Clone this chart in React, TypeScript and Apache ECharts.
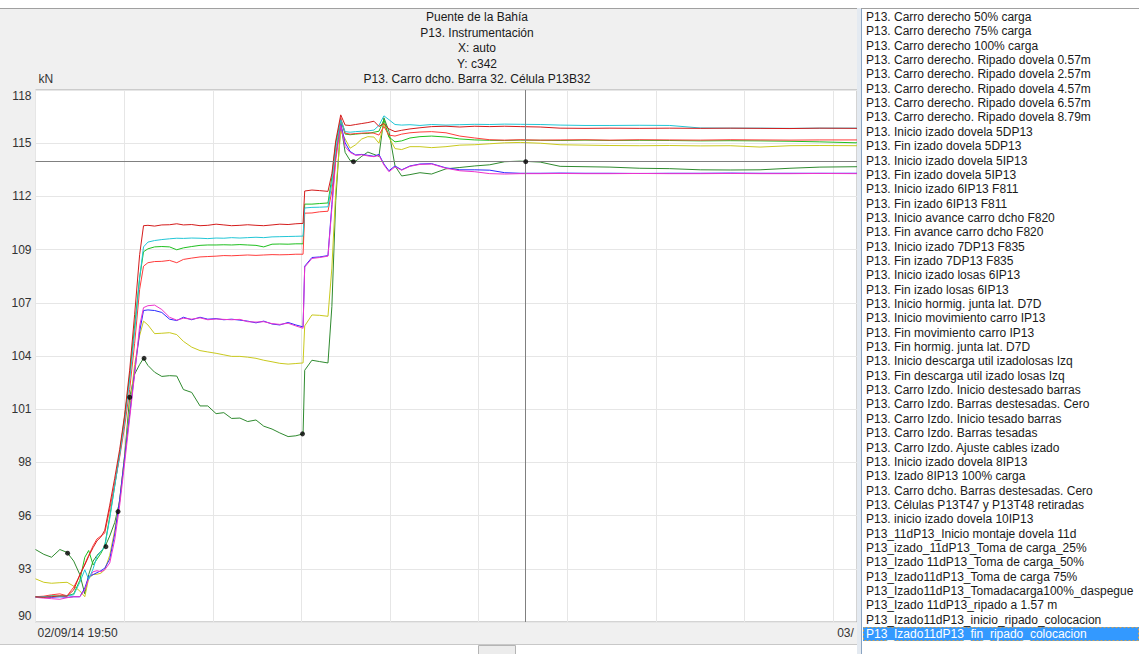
import React, { useEffect, useRef } from 'react';
import * as echarts from 'echarts';

// ---------- texts ----------
const TITLE_LINES = [
  'Puente de la Bahía',
  'P13. Instrumentación',
  'X: auto',
  'Y: c342',
  'P13. Carro dcho. Barra 32. Célula P13B32',
];
const Y_UNIT = 'kN';
// x axis is in minutes from 02/09/14 19:50
const X_FIRST_LABEL: [number, string] = [0, '02/09/14 19:50'];
const X_NEXT_LABEL: [number, string] = [1440, '03/09/14 19:50'];
const X_MIN = 0;
const X_MAX = 1483;
const X_STEP = 160;
const Y_MIN = 90.14;
const Y_MAX = 117.74;
const Y_STEP = 2.76;

const EVENTS = [
  'P13. Carro derecho 50% carga',
  'P13. Carro derecho 75% carga',
  'P13. Carro derecho 100% carga',
  'P13. Carro derecho. Ripado dovela 0.57m',
  'P13. Carro derecho. Ripado dovela 2.57m',
  'P13. Carro derecho. Ripado dovela 4.57m',
  'P13. Carro derecho. Ripado dovela 6.57m',
  'P13. Carro derecho. Ripado dovela 8.79m',
  'P13. Inicio izado dovela 5DP13',
  'P13. Fin izado dovela 5DP13',
  'P13. Inicio izado dovela 5IP13',
  'P13. Fin izado dovela 5IP13',
  'P13. Inicio izado 6IP13 F811',
  'P13. Fin izado 6IP13 F811',
  'P13. Inicio avance carro dcho F820',
  'P13. Fin avance carro dcho F820',
  'P13. Inicio izado 7DP13 F835',
  'P13. Fin izado 7DP13 F835',
  'P13. Inicio izado losas 6IP13',
  'P13. Fin izado losas 6IP13',
  'P13. Inicio hormig. junta lat. D7D',
  'P13. Inicio movimiento carro IP13',
  'P13. Fin movimiento carro IP13',
  'P13. Fin hormig. junta lat. D7D',
  'P13. Inicio descarga util izadolosas Izq',
  'P13. Fin descarga util izado losas Izq',
  'P13. Carro Izdo. Inicio destesado barras',
  'P13. Carro Izdo. Barras destesadas. Cero',
  'P13. Carro Izdo. Inicio tesado barras',
  'P13. Carro Izdo. Barras tesadas',
  'P13. Carro Izdo. Ajuste cables izado',
  'P13. Inicio izado dovela 8IP13',
  'P13. Izado 8IP13 100% carga',
  'P13. Carro dcho. Barras destesadas. Cero',
  'P13. Células P13T47 y P13T48 retiradas',
  'P13. inicio izado dovela 10IP13',
  'P13_11dP13_Inicio montaje dovela 11d',
  'P13_izado_11dP13_Toma de carga_25%',
  'P13_Izado 11dP13_Toma de carga_50%',
  'P13_Izado11dP13_Toma de carga 75%',
  'P13_Izado11dP13_Tomadacarga100%_daspegue',
  'P13_Izado 11dP13_ripado a 1.57 m',
  'P13_Izado11dP13_inicio_ripado_colocacion',
  'P13_Izado11dP13_fin_ripado_colocacion',
];
const SELECTED_EVENT = 43;

// ---------- data ----------
const TIMES = [
  0, 15, 29, 44, 57, 69, 80, 89, 96, 104,
  111, 118, 125, 134, 143, 152, 161, 170, 179, 188,
  195, 203, 215, 228, 242, 255, 267, 282, 297, 311,
  326, 340, 354, 369, 383, 398, 412, 427, 441, 456,
  470, 483, 486, 499, 513, 528, 535, 542, 551, 559,
  568, 578, 589, 600, 611, 620, 629, 638, 649, 661,
  676, 694, 715, 741, 766, 793, 820, 847, 875, 911,
  947, 992, 1037, 1091, 1145, 1200, 1254, 1308, 1362, 1416,
  1483,
];

const RED_1 = [
  91.45, 91.42, 91.45, 91.5, 91.48, 91.8, 92.6, 93.1, 93.55, 94.0,
  94.35, 94.55, 94.9, 96.2, 97.6, 99.1, 100.9, 103.2, 106.1, 109.2,
  110.7, 110.72, 110.68, 110.74, 110.75, 110.8, 110.74, 110.76, 110.7, 110.72,
  110.78, 110.74, 110.7, 110.72, 110.75, 110.72, 110.7, 110.74, 110.78, 110.76,
  110.8, 110.82, 112.5, 112.55, 112.52, 112.48, 113.4, 115.1, 116.45, 115.92,
  115.9, 115.95, 116.0, 116.05, 116.12, 115.85, 116.0, 115.72, 115.58, 115.65,
  115.72, 115.78, 115.84, 115.86, 115.82, 115.86, 115.84, 115.86, 115.84, 115.82,
  115.76, 115.75, 115.76, 115.75, 115.76, 115.75, 115.76, 115.75, 115.74, 115.76,
  115.75,
];
const CYAN = [
  91.45, 91.45, 91.48, 91.45, 91.5, 91.55, 92.2, 92.85, 92.35, 92.9,
  93.55, 93.8, 94.05, 95.5, 97.2, 98.8, 100.6, 102.7, 105.2, 108.0,
  109.6, 109.85, 109.93, 109.98, 110.02, 110.05, 110.04, 110.06, 110.05, 110.03,
  110.06, 110.05, 110.08, 110.06, 110.08, 110.1, 110.08, 110.12, 110.13, 110.14,
  110.15, 110.16, 111.62, 111.65, 111.66, 111.68, 112.9, 114.7, 116.2, 115.58,
  115.55, 115.58, 115.6, 115.62, 115.66, 115.9, 116.4, 116.2, 115.95, 115.92,
  115.94, 115.9, 115.95, 115.92, 115.94, 115.96, 115.95, 115.97, 115.96, 115.95,
  115.92, 115.9, 115.9, 115.91, 115.9, 115.77, 115.76, 115.76, 115.75, 115.76,
  115.76,
];
const RED_2 = [
  91.45, 91.48, 91.55, 91.6, 91.5, 91.95, 92.55, 93.15, 93.6, 94.1,
  94.45, 94.6, 94.75, 96.0, 97.3, 98.7, 100.3, 102.2, 104.6, 107.4,
  108.6, 108.78, 108.84, 108.85, 108.9, 108.78, 108.95, 109.02, 109.08, 109.1,
  109.12, 109.15, 109.14, 109.16, 109.18, 109.16, 109.18, 109.2, 109.19, 109.2,
  109.22, 109.22, 111.35, 111.36, 111.42, 111.45, 112.5, 114.3, 116.3, 115.5,
  115.45, 115.48, 115.5, 115.52, 115.5, 115.4, 115.85, 115.4, 115.35, 115.45,
  115.52, 115.56, 115.58, 115.52, 115.35, 115.25, 115.16, 115.14, 115.16, 115.14,
  115.15, 115.16, 115.14, 115.16, 115.15, 115.14, 115.16, 115.15, 115.14, 115.15,
  115.15,
];
const GREEN = [
  91.45, 91.45, 91.5, 91.48, 91.5, 91.6, 92.3, 93.5, 93.85, 93.1,
  93.4, 93.7, 94.1, 95.6, 97.2, 98.9, 100.8, 102.9, 105.5, 108.0,
  109.35, 109.5, 109.6, 109.62, 109.6, 109.45, 109.55, 109.62, 109.68, 109.7,
  109.7, 109.71, 109.7, 109.72, 109.7, 109.68, 109.6, 109.74, 109.75, 109.74,
  109.76, 109.76, 111.82, 111.82, 111.85, 111.88, 113.2, 115.0, 116.2, 115.45,
  115.42, 115.45, 115.48, 115.48, 115.55, 115.6, 116.2, 115.3, 115.05, 115.1,
  115.25, 115.32, 115.35, 115.3, 115.2, 115.15, 115.13, 115.12, 115.14, 115.13,
  115.12, 115.14, 115.12, 115.13, 115.12, 115.1, 115.11, 115.1, 115.08, 115.05,
  115.0,
];
const BLUE = [
  91.42, 91.45, 91.42, 91.45, 91.42, 91.45, 91.45, 91.9, 92.5, 92.6,
  92.7, 92.8, 92.93, 93.4, 94.7, 96.5, 98.7, 100.9, 103.1, 105.2,
  106.3, 106.33, 106.3, 106.2, 105.85, 105.78, 105.95, 105.82, 105.95, 105.85,
  105.88, 105.82, 105.85, 105.8, 105.75, 105.66, 105.75, 105.6, 105.55, 105.68,
  105.55, 105.45, 108.6, 109.05, 109.08, 109.15, 111.8, 114.3, 116.0, 115.0,
  114.55, 114.37, 114.4, 114.35, 114.3, 114.4, 113.9, 113.55, 113.8, 113.6,
  113.8, 113.9, 113.92, 113.7, 113.6, 113.6, 113.58, 113.45, 113.42, 113.42,
  113.43, 113.42, 113.42, 113.41, 113.42, 113.42, 113.43, 113.42, 113.42, 113.42,
  113.42,
];
const MAGENTA = [
  91.42, 91.38, 91.35, 91.32, 91.4, 91.45, 91.45, 91.8, 92.4, 92.75,
  92.8, 92.75, 92.85, 93.2, 94.4, 96.2, 98.4, 100.7, 103.0, 105.5,
  106.45, 106.55, 106.58, 106.35, 105.95, 105.8, 105.9, 105.85, 105.92, 105.82,
  105.86, 105.84, 105.82, 105.84, 105.72, 105.7, 105.72, 105.62, 105.58, 105.64,
  105.5, 105.38, 108.55, 109.0, 109.05, 109.12, 111.6, 114.1, 115.9, 114.8,
  114.5, 114.35, 114.38, 114.32, 114.28, 114.35, 113.85, 113.5, 113.75, 113.58,
  113.78, 113.88, 113.9, 113.68, 113.55, 113.5, 113.4, 113.38, 113.4, 113.4,
  113.41, 113.4, 113.4, 113.41, 113.4, 113.4, 113.41, 113.4, 113.4, 113.41,
  113.4,
];
const YELLOW = [
  92.38, 92.2, 92.15, 92.18, 92.2, 92.0, 91.75, 91.45, 92.4, 92.6,
  92.62, 92.67, 92.85, 93.6, 94.9, 96.5, 98.8, 101.2, 103.5, 105.0,
  105.75, 105.55, 105.1, 105.12, 105.15, 105.05, 104.7, 104.4, 104.22, 104.15,
  104.08, 104.0, 103.92, 103.92, 103.88, 103.82, 103.72, 103.64, 103.56, 103.52,
  103.55, 103.58, 105.5, 106.07, 106.05, 106.0, 108.5, 112.5, 115.6, 115.2,
  114.72, 114.9, 115.2, 115.32, 115.3, 114.98, 116.0, 115.3, 114.7, 114.65,
  114.8, 114.8, 114.75, 114.8, 114.88, 114.9, 114.95, 115.0, 115.02, 114.98,
  114.9, 114.88, 114.86, 114.85, 114.86, 114.84, 114.85, 114.78, 114.85, 114.86,
  114.85,
];
const DARK_GREEN = [
  93.9, 93.65, 93.5, 93.9, 93.75, 93.3, 92.6, 91.6, 92.6, 93.3,
  93.6, 93.8, 94.02, 94.6, 95.3, 96.4, 98.8, 101.8, 103.0, 103.5,
  103.82, 103.45, 103.1, 102.88, 102.92, 102.9, 102.2, 102.05, 101.35, 101.35,
  100.95, 101.0, 100.7, 100.72, 100.54, 100.62, 100.3, 100.15, 99.95, 99.76,
  99.8, 99.9, 103.2, 103.72, 103.65, 103.58, 106.5, 112.0, 116.0, 114.5,
  114.08, 114.05, 114.3, 114.52, 114.4, 114.3, 116.3, 115.6, 113.8, 113.28,
  113.35, 113.45, 113.38, 113.65, 113.72, 113.8, 113.86, 114.02, 114.05, 114.0,
  113.78, 113.76, 113.74, 113.68, 113.66, 113.6, 113.59, 113.6, 113.68, 113.74,
  113.76,
];

// event markers (black dots)
const MARKER_TIMES = [58, 127, 149, 170, 196, 482, 574, 885];
const MARKER_VALUES = [93.71, 94.05, 95.87, 101.8, 103.82, 99.9, 114.02, 114.02];

// cursor crosshair
const CURSOR_TIME = 885;
const CURSOR_VALUE = 114.02;

const SERIES_DEFS = [
  { name: 'Verde oscuro', color: '#2f8a2f', values: DARK_GREEN },
  { name: 'Amarillo', color: '#c9c91e', values: YELLOW },
  { name: 'Azul', color: '#2a2aff', values: BLUE },
  { name: 'Magenta', color: '#ee33cc', values: MAGENTA },
  { name: 'Verde', color: '#1fbf1f', values: GREEN },
  { name: 'Rojo 2', color: '#ff3c3c', values: RED_2 },
  { name: 'Cian', color: '#22c6d6', values: CYAN },
  { name: 'Rojo 1', color: '#d41c1c', values: RED_1 },
];

const FONT = '"Liberation Sans", Arial, sans-serif';

export default function App() {
  const ref = useRef<HTMLDivElement>(null);

  useEffect(() => {
    document.body.style.margin = '0';
    if (!ref.current) return;
    const chart = echarts.init(ref.current, undefined, { renderer: 'svg' });

    const lineSeries = SERIES_DEFS.map((s, k) => ({
      type: 'line',
      name: s.name,
      data: TIMES.map((t, i) => [t, s.values[i]]),
      symbol: 'none',
      showSymbol: false,
      lineStyle: { width: 1, color: s.color },
      itemStyle: { color: s.color },
      emphasis: { disabled: true },
      z: 3 + k * 0.01,
    }));

    const markerSeries = {
      type: 'scatter',
      name: 'Eventos',
      data: MARKER_TIMES.map((t, i) => [t, MARKER_VALUES[i]]),
      symbol: 'circle',
      symbolSize: 5,
      itemStyle: { color: '#000' },
      emphasis: { disabled: true },
      z: 5,
      markLine: {
        silent: true,
        symbol: ['none', 'none'],
        label: { show: false },
        lineStyle: { color: '#808080', width: 1, type: 'solid' },
        emphasis: { disabled: true },
        data: [{ xAxis: CURSOR_TIME }, { yAxis: CURSOR_VALUE }],
      },
    };

    const ITEM_Y0 = 17;
    const ITEM_DY = 14.35;

    const graphics: any[] = [];
    // top white strip
    graphics.push({ type: 'rect', z: 100, shape: { x: 0, y: 0, width: 1139, height: 8 }, style: { fill: '#ffffff' } });
    graphics.push({ type: 'line', z: 101, shape: { x1: 0, y1: 8.5, x2: 857, y2: 8.5 }, style: { stroke: '#a0a0a0', lineWidth: 1 } });
    // bottom strip
    graphics.push({ type: 'rect', z: 100, shape: { x: 0, y: 645, width: 857, height: 9 }, style: { fill: '#ffffff' } });
    graphics.push({ type: 'line', z: 101, shape: { x1: 0, y1: 644.5, x2: 857, y2: 644.5 }, style: { stroke: '#c8c8c8', lineWidth: 1 } });
    graphics.push({ type: 'rect', z: 101, shape: { x: 478.5, y: 645.5, width: 37, height: 10 }, style: { fill: '#ececec', stroke: '#b4b4b4', lineWidth: 1 } });
    // right list panel
    graphics.push({ type: 'rect', z: 100, shape: { x: 857, y: 0, width: 282, height: 654 }, style: { fill: '#ffffff' } });
    graphics.push({ type: 'rect', z: 101, shape: { x: 857, y: 8, width: 4, height: 646 }, style: { fill: '#e4eaf1' } });
    graphics.push({ type: 'line', z: 102, shape: { x1: 861.5, y1: 8, x2: 861.5, y2: 654 }, style: { stroke: '#8aa4c2', lineWidth: 1 } });
    graphics.push({ type: 'line', z: 102, shape: { x1: 861, y1: 8.5, x2: 1139, y2: 8.5 }, style: { stroke: '#a0a0a0', lineWidth: 1 } });
    // selected item highlight
    const selY = ITEM_Y0 + SELECTED_EVENT * ITEM_DY;
    graphics.push({ type: 'rect', z: 102, shape: { x: 863, y: selY - 7, width: 276, height: 14 }, style: { fill: '#3399ff' } });
    graphics.push({ type: 'rect', z: 103, shape: { x: 863.5, y: selY - 6.5, width: 275, height: 13 }, style: { fill: 'none', stroke: '#d9a24a', lineWidth: 1, lineDash: [2, 2] } });
    EVENTS.forEach((txt, i) => {
      graphics.push({
        type: 'text',
        z: 104,
        x: 866,
        y: ITEM_Y0 + i * ITEM_DY,
        style: {
          text: txt,
          fill: i === SELECTED_EVENT ? '#ffffff' : '#1a1a1a',
          font: '12px ' + FONT,
          align: 'left',
          verticalAlign: 'middle',
          textAlign: 'left',
          textVerticalAlign: 'middle',
        },
      });
    });
    // title lines
    TITLE_LINES.forEach((txt, i) => {
      graphics.push({
        type: 'text',
        z: 104,
        x: 477,
        y: 17 + i * 15.5,
        style: {
          text: txt,
          fill: '#1a1a1a',
          font: '12px ' + FONT,
          align: 'center',
          verticalAlign: 'middle',
          textAlign: 'center',
          textVerticalAlign: 'middle',
        },
      });
    });

    const xAxisBase = {
      type: 'value',
      min: X_MIN,
      max: X_MAX,
      interval: X_STEP,
      axisLine: { show: false },
      axisTick: { show: false },
    };

    const option: any = {
      animation: false,
      backgroundColor: '#f0f0f0',
      textStyle: { fontFamily: FONT },
      grid: {
        left: 35.5,
        top: 90,
        width: 821.5,
        height: 532,
        show: true,
        backgroundColor: '#ffffff',
        borderColor: '#a8a8a8',
        borderWidth: 1,
      },
      xAxis: [
        {
          ...xAxisBase,
          splitLine: { show: true, lineStyle: { color: '#e6e6e6', width: 1 } },
          axisLabel: {
            formatter: (v: number) => (Math.round(v) === X_FIRST_LABEL[0] ? X_FIRST_LABEL[1] : ''),
            align: 'left',
            color: '#333',
            fontSize: 12,
            margin: 5,
            padding: [0, 0, 0, 2],
          },
        },
        {
          // next-day label, clipped by the list panel as in the original window
          ...xAxisBase,
          position: 'bottom',
          splitLine: { show: false },
          axisLabel: {
            formatter: (v: number) => (Math.round(v) === X_NEXT_LABEL[0] ? X_NEXT_LABEL[1] : ''),
            align: 'left',
            color: '#333',
            fontSize: 12,
            margin: 5,
            padding: [0, 0, 0, 4],
            width: 21,
            overflow: 'truncate',
            ellipsis: '',
          },
        },
      ],
      yAxis: {
        type: 'value',
        min: Y_MIN,
        max: Y_MAX,
        interval: Y_STEP,
        name: Y_UNIT,
        nameLocation: 'end',
        nameGap: 11,
        nameTextStyle: { align: 'left', verticalAlign: 'middle', fontSize: 12, color: '#333', padding: [0, 0, 0, 3] },
        axisLine: { show: false },
        axisTick: { show: false },
        splitLine: { show: true, lineStyle: { color: '#e6e6e6', width: 1 } },
        axisLabel: {
          formatter: (v: number) => String(Math.round(v)),
          color: '#333',
          fontSize: 12,
          margin: 4,
          showMinLabel: true,
          showMaxLabel: true,
          verticalAlignMinLabel: 'bottom',
          verticalAlignMaxLabel: 'top',
        },
      },
      tooltip: { show: false },
      series: [...lineSeries, markerSeries],
      graphic: { elements: graphics },
    };

    chart.setOption(option);
    return () => chart.dispose();
  }, []);

  return <div ref={ref} style={{ width: 1139, height: 654 }} />;
}
